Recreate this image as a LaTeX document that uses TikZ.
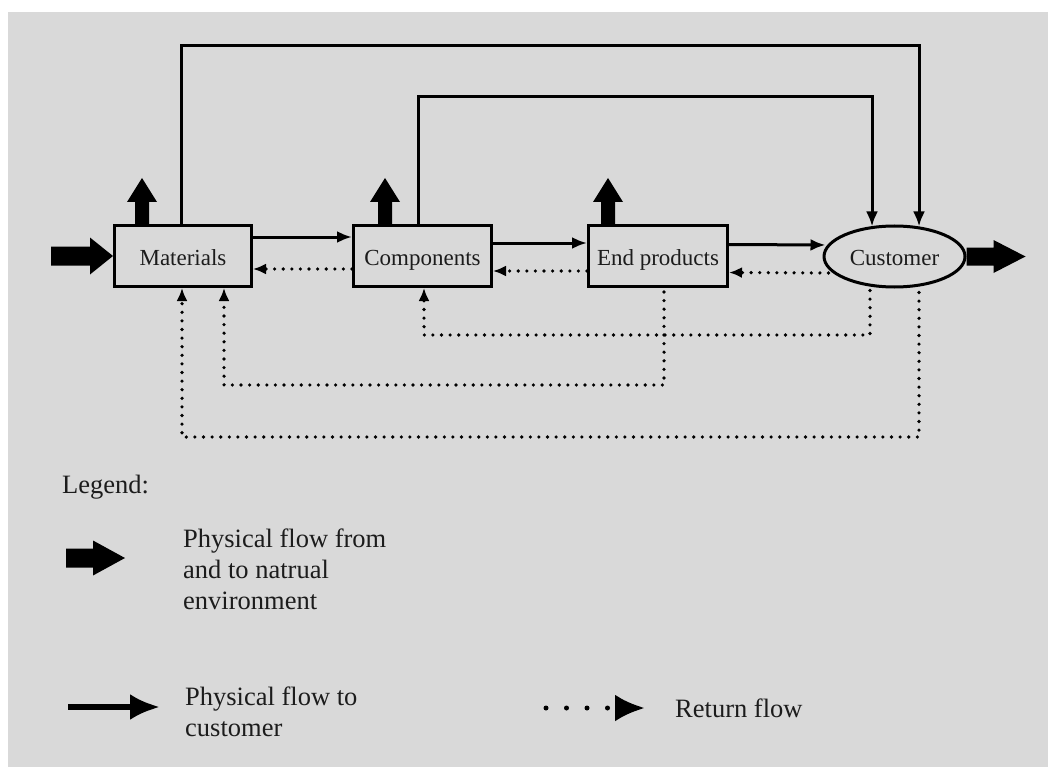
\documentclass[tikz,border=0pt]{standalone}
\usepackage{fontspec}
\setmainfont{Liberation Serif}
\usetikzlibrary{arrows.meta,calc,shapes.geometric}
\definecolor{bg}{RGB}{217,217,217}
\definecolor{txt}{RGB}{28,28,28}
\begin{document}
\begin{tikzpicture}[x=1pt,y=-1pt,
  box/.style={draw=black, line width=3pt, rectangle, minimum height=61pt, inner sep=0pt,
    text height=20pt, text depth=2pt,
    font=\fontsize{23}{27}\selectfont, text=txt},
  custbox/.style={draw=black, line width=3pt, ellipse, minimum width=141pt, minimum height=61pt,
    inner sep=0pt, text height=20pt, text depth=2pt, font=\fontsize{23}{27}\selectfont, text=txt},
  flow/.style={draw=black, line width=3pt, -{Latex[length=15pt,width=12pt]}},
  ret/.style={draw=black, line width=3.6pt, line cap=round, dash pattern=on 0pt off 8.6pt,
    -{Latex[length=13pt,width=11pt]}},
  leg/.style={inner sep=0pt, font=\fontsize{26.5}{31}\selectfont, text=txt},
  legflow/.style={draw=black, line width=5.5pt, -{Latex[length=30pt,width=26pt]}},
  legret/.style={draw=black, line width=5pt, line cap=round, dash pattern=on 0pt off 20.5pt,
    -{Latex[length=30pt,width=27pt]}},
  pics/fat/.style n args={4}{code={
    \fill[black] (0,{-#2/2}) -- ({#1-#4},{-#2/2}) -- ({#1-#4},{-#3/2}) -- (#1,0)
      -- ({#1-#4},{#3/2}) -- ({#1-#4},{#2/2}) -- (0,{#2/2}) -- cycle;}}
]
\useasboundingbox (0,0) rectangle (1048,767);
\fill[white] (0,0) rectangle (1048,767);
\fill[bg] (8,12) rectangle (1048,767);

% nodes
\node[box, minimum width=137pt] (mat) at (183,256) {Materials};
\node[box, minimum width=138pt] (comp) at (422.5,256) {Components};
\node[box, minimum width=139pt] (endp) at (658,256) {End products};
\node[custbox] (cust) at (894.5,256.5) {Customer};

% environment flows
\pic at ([xshift=-62pt]mat.west) {fat={62}{19}{37}{23}};
\pic at (cust.east) {fat={59}{18}{33}{32}};
\pic[rotate=90] at ([xshift=-41pt]mat.north) {fat={46}{14}{30}{24}};
\pic[rotate=90] at ([xshift=-37.5pt]comp.north) {fat={46}{14}{30}{24}};
\pic[rotate=90] at ([xshift=-50pt]endp.north) {fat={46}{14}{30}{24}};

% forward flows
\draw[flow] ([yshift=19pt]mat.east) -- ([yshift=19pt]comp.west);
\draw[flow] ([yshift=13pt]comp.east) -- ([yshift=13pt]endp.west);
\draw[flow] ([yshift=11.5pt]endp.east) -- ([yshift=11.5pt,xshift=3pt]cust.west);

\coordinate (t1) at (919,46);
\coordinate (t2) at (872,97);
\draw[flow] ([xshift=-2pt]mat.north) |- (t1) -- ($(t1 |- cust.north)+(0,2)$);
\draw[flow] ([xshift=-4.5pt]comp.north) |- (t2) -- ($(t2 |- cust.north)+(0,2)$);

% return flows
\draw[ret] ([yshift=-13pt]comp.west) -- ([yshift=-13pt]mat.east);
\draw[ret] ([yshift=-15pt]endp.west) -- ([yshift=-15pt]comp.east);
\draw[ret] ([yshift=-16.5pt,xshift=6pt]cust.west) -- ([yshift=-16.5pt]endp.east);

\coordinate (c1) at (870,335);
\coordinate (c2) at (664,385);
\coordinate (c3) at (919,437);
\draw[ret] ($(c1 |- cust.south)+(0,2)$) -- (c1) -| ([xshift=1.5pt]comp.south);
\draw[ret] ($(c2 |- endp.south)+(0,4)$) -- (c2) -| ([xshift=41pt]mat.south);
\draw[ret] ($(c3 |- cust.south)+(0,4)$) -- (c3) -| ([xshift=-1pt]mat.south);

% legend
\node[leg, anchor=west] (lg) at (62,487) {Legend:};
\pic at (66,558) {fat={59}{19}{35}{32}};
\node[leg, anchor=west, align=left] (l1) at (183,569) {Physical flow from\\and to natrual\\environment};
\coordinate (a1) at (68,707);
\coordinate (a2) at (160,707);
\draw[legflow] (a1) -- (a2);
\node[leg, anchor=west, align=left] (l2) at (185,712) {Physical flow to\\customer};
\coordinate (r1) at (546,708);
\coordinate (r2) at (645,708);
\draw[legret] (r1) -- (r2);
\node[leg, anchor=west] (l3) at (675,708) {Return flow};
\end{tikzpicture}
\end{document}
